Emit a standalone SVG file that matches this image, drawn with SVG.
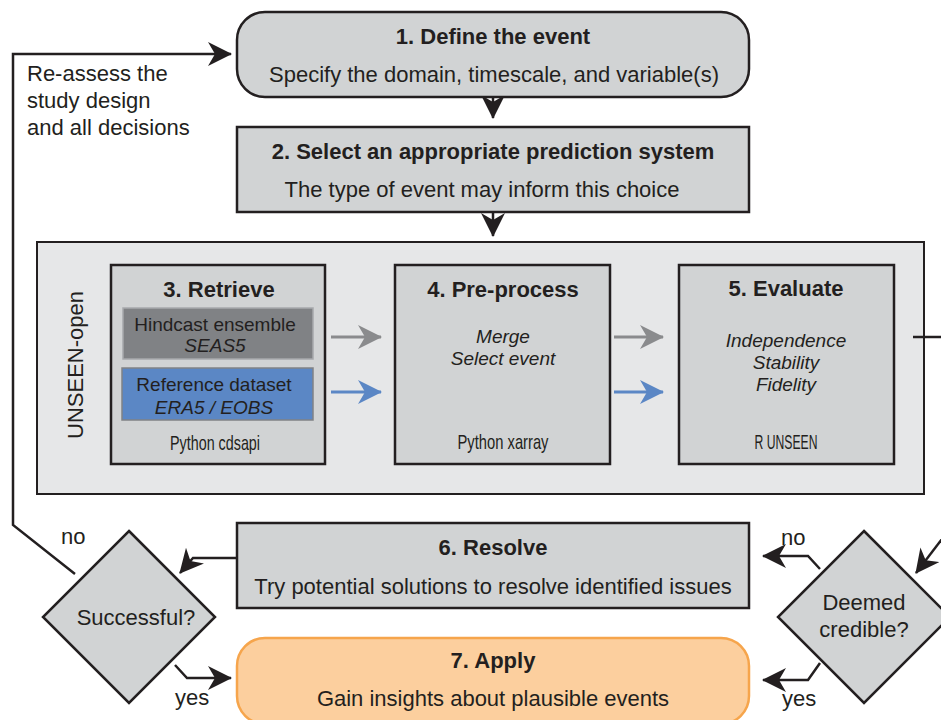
<svg xmlns="http://www.w3.org/2000/svg" width="941" height="720" viewBox="0 0 941 720">
<style>
text{font-family:"Liberation Sans",Arial,sans-serif;fill:#231f20}
.t{font-size:22px;font-weight:bold;text-anchor:middle}
.s{font-size:22px;text-anchor:middle}
.m{font-size:19px;text-anchor:middle}
.i{font-size:19px;font-style:italic;text-anchor:middle}
.n{font-size:21px;text-anchor:middle}
.l{font-size:22px}
.box{fill:#d1d3d4;stroke:#231f20;stroke-width:2.5}
.conn{fill:none;stroke:#231f20;stroke-width:2.5}
</style>
<defs>
<marker id="ab" markerUnits="userSpaceOnUse" markerWidth="24" markerHeight="24" refX="23" refY="12" orient="auto" viewBox="0 0 24 24">
<path d="M0,0 L24,12 L0,24 L7,12 z" fill="#231f20"/>
</marker>
<marker id="ag" markerUnits="userSpaceOnUse" markerWidth="24" markerHeight="24" refX="23" refY="12" orient="auto" viewBox="0 0 24 24">
<path d="M0,0 L24,12 L0,24 L7,12 z" fill="#8a8b8d"/>
</marker>
<marker id="au" markerUnits="userSpaceOnUse" markerWidth="24" markerHeight="24" refX="23" refY="12" orient="auto" viewBox="0 0 24 24">
<path d="M0,0 L24,12 L0,24 L7,12 z" fill="#5b87c5"/>
</marker>
</defs>

<g id="container">
<rect x="37" y="242" width="887" height="252" fill="#e6e7e8" stroke="#231f20" stroke-width="2"/>
<text transform="translate(83,365) rotate(-90)" style="font-size:22px;text-anchor:middle">UNSEEN-open</text>
</g>

<g id="connectors">
<path class="conn" d="M493,97 V118" marker-end="url(#ab)"/>
<path class="conn" d="M493,212 V236" marker-end="url(#ab)"/>
<path d="M331,337 H381" stroke="#8a8b8d" stroke-width="3" fill="none" marker-end="url(#ag)"/>
<path d="M331,392 H381" stroke="#5b87c5" stroke-width="3" fill="none" marker-end="url(#au)"/>
<path d="M614,337 H663" stroke="#8a8b8d" stroke-width="3" fill="none" marker-end="url(#ag)"/>
<path d="M614,392 H663" stroke="#5b87c5" stroke-width="3" fill="none" marker-end="url(#au)"/>
<path class="conn" d="M913,337 H941"/>
<path class="conn" d="M945,535 L916,573" marker-end="url(#ab)"/>
<path class="conn" d="M820,569 L808,556 H763" marker-end="url(#ab)"/>
<path class="conn" d="M820,663 L808,680 H763" marker-end="url(#ab)"/>
<path class="conn" d="M237,558 H193 L180,573" marker-end="url(#ab)"/>
<path class="conn" d="M75,574 L13,525 V54 H231" marker-end="url(#ab)"/>
<path class="conn" d="M175,665 L187,678 H231" marker-end="url(#ab)"/>
<text class="l" x="27" y="81">Re-assess the</text>
<text class="l" x="27" y="108">study design</text>
<text class="l" x="27" y="135">and all decisions</text>
<text class="l" x="61" y="544">no</text>
<text class="l" x="175" y="705">yes</text>
<text class="l" x="781" y="545">no</text>
<text class="l" x="782" y="706">yes</text>
</g>

<g id="n1">
<rect class="box" x="237" y="12" width="512" height="85" rx="28"/>
<text class="t" x="493" y="44">1. Define the event</text>
<text class="s" x="494" y="82">Specify the domain, timescale, and variable(s)</text>
</g>

<g id="n2">
<rect class="box" x="237" y="127" width="512" height="85"/>
<text class="t" x="493" y="159">2. Select an appropriate prediction system</text>
<text class="s" x="482" y="197">The type of event may inform this choice</text>
</g>

<g id="n3">
<rect class="box" x="111" y="265" width="214" height="199"/>
<text class="t" x="219" y="297">3. Retrieve</text>
<rect x="123" y="308" width="190" height="51" fill="#808285" stroke="#a7a9ac" stroke-width="1.5"/>
<text class="m" x="215" y="331">Hindcast ensemble</text>
<text class="i" x="215" y="352">SEAS5</text>
<rect x="122" y="368" width="191" height="52" fill="#5b87c5" stroke="#808285" stroke-width="1.5"/>
<text class="m" x="214" y="391">Reference dataset</text>
<text class="i" x="214" y="414">ERA5 / EOBS</text>
<text class="n" x="215" y="450" textLength="90" lengthAdjust="spacingAndGlyphs">Python cdsapi</text>
</g>

<g id="n4">
<rect class="box" x="395" y="265" width="215" height="199"/>
<text class="t" x="503" y="297">4. Pre-process</text>
<text class="i" x="503" y="343">Merge</text>
<text class="i" x="503" y="365">Select event</text>
<text class="n" x="503" y="449" textLength="91" lengthAdjust="spacingAndGlyphs">Python xarray</text>
</g>

<g id="n5">
<rect class="box" x="679" y="265" width="215" height="199"/>
<text class="t" x="786" y="296">5. Evaluate</text>
<text class="i" x="786" y="347">Independence</text>
<text class="i" x="786" y="369">Stability</text>
<text class="i" x="786" y="391">Fidelity</text>
<text class="n" x="786" y="449" textLength="63" lengthAdjust="spacingAndGlyphs">R UNSEEN</text>
</g>

<g id="n6">
<rect class="box" x="237" y="523" width="512" height="85"/>
<text class="t" x="493" y="555">6. Resolve</text>
<text class="s" x="493" y="594">Try potential solutions to resolve identified issues</text>
</g>

<g id="n7">
<rect x="237" y="638" width="512" height="86" rx="28" fill="#fccf9e" stroke="#f6a54c" stroke-width="2.5"/>
<text class="t" x="493" y="668">7. Apply</text>
<text class="s" x="493" y="706">Gain insights about plausible events</text>
</g>

<g id="d_successful">
<path class="box" d="M129,531 L215,617 L129,703 L43,617 z"/>
<text class="s" x="136" y="625">Successful?</text>
</g>

<g id="d_credible">
<path class="box" d="M864,531 L950,617 L864,703 L778,617 z"/>
<text class="s" x="864" y="610">Deemed</text>
<text class="s" x="864" y="637">credible?</text>
</g>
</svg>
